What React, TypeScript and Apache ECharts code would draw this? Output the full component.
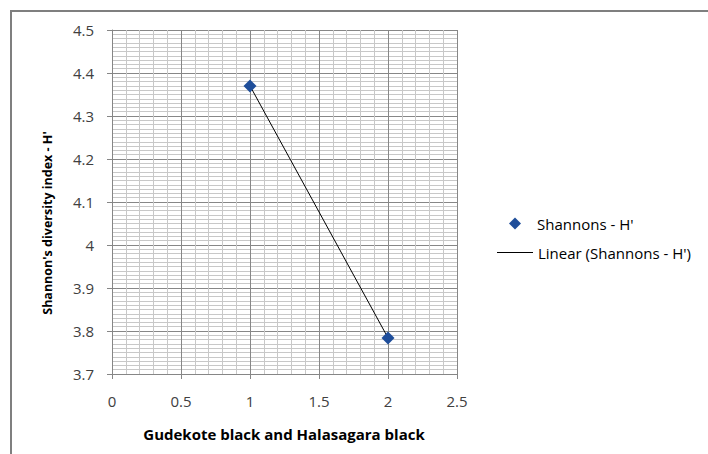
import React, { useEffect, useRef } from "react";
import * as echarts from "echarts";

// Site index on the x axis (1 = Gudekote black, 2 = Halasagara black)
const siteIndex: number[] = [1, 2];
// Shannon's diversity index H' for each site
const shannonH: number[] = [4.37, 3.784];

const seriesName = "Shannons - H'";
const trendName = "Linear (Shannons - H')";
const xTitle = "Gudekote black and Halasagara black";
const yTitle = "Shannon's diversity index - H'";

const FONT = "'Open Sans', 'Noto Sans', sans-serif";

// Least-squares fit through the observed points
function linearFit(xs: number[], ys: number[]): [number, number][] {
  const n = xs.length;
  const mx = xs.reduce((a, b) => a + b, 0) / n;
  const my = ys.reduce((a, b) => a + b, 0) / n;
  let sxy = 0;
  let sxx = 0;
  for (let i = 0; i < n; i++) {
    sxy += (xs[i] - mx) * (ys[i] - my);
    sxx += (xs[i] - mx) * (xs[i] - mx);
  }
  const slope = sxy / sxx;
  const icpt = my - slope * mx;
  const x0 = Math.min(...xs);
  const x1 = Math.max(...xs);
  return [
    [x0, icpt + slope * x0],
    [x1, icpt + slope * x1],
  ];
}

const fmt = (v: number) => String(Math.round(v * 10) / 10);

export default function App() {
  const ref = useRef<HTMLDivElement>(null);

  useEffect(() => {
    if (!ref.current) return;
    const chart = echarts.init(ref.current, undefined, { renderer: "svg" });
    chart.setOption({
      animation: false,
      backgroundColor: "#ffffff",
      grid: { left: 112, top: 30, right: 251, bottom: 80 },
      xAxis: {
        type: "value",
        min: 0,
        max: 2.5,
        interval: 0.5,
        axisLine: { show: true, lineStyle: { color: "#868686", width: 1 } },
        axisTick: { show: true, length: 5, lineStyle: { color: "#868686" } },
        axisLabel: {
          margin: 19,
          color: "#404040",
          fontSize: 15,
          lineHeight: 15,
          fontFamily: FONT,
          formatter: fmt,
        },
        splitLine: { show: true, lineStyle: { color: "#878787", width: 1 } },
        minorTick: { show: false, splitNumber: 5 },
        minorSplitLine: { show: true, lineStyle: { color: "#c8c8c8", width: 1 } },
      },
      yAxis: {
        type: "value",
        min: 3.7,
        max: 4.5,
        interval: 0.1,
        axisLine: { show: true, lineStyle: { color: "#868686", width: 1 } },
        axisTick: { show: true, length: 5, lineStyle: { color: "#868686" } },
        axisLabel: {
          margin: 18,
          color: "#404040",
          fontSize: 15,
          fontFamily: FONT,
          formatter: fmt,
        },
        splitLine: { show: true, lineStyle: { color: "#878787", width: 1 } },
        minorTick: { show: false, splitNumber: 10 },
        minorSplitLine: { show: true, lineStyle: { color: "#c8c8c8", width: 1 } },
      },
      legend: [
        {
          data: [{ name: seriesName, icon: "diamond" }],
          orient: "vertical",
          left: 509,
          top: 216,
          itemWidth: 12,
          itemHeight: 12,
          padding: 0,
          textStyle: {
            fontFamily: FONT,
            fontSize: 15,
            color: "#000000",
            padding: [0, 0, 0, 11],
          },
        },
        {
          data: [{ name: trendName, icon: "rect" }],
          orient: "vertical",
          left: 497,
          top: 245,
          itemWidth: 36,
          itemHeight: 1,
          padding: 0,
          textStyle: { fontFamily: FONT, fontSize: 15, color: "#000000" },
        },
      ],
      graphic: [
        {
          type: "rect",
          shape: { x: 11, y: 11, width: 760, height: 520 },
          style: { fill: "none", stroke: "#7f7f7f", lineWidth: 2 },
          silent: true,
        },
        {
          type: "text",
          x: 284,
          y: 434,
          style: {
            text: xTitle,
            fontFamily: FONT,
            fontWeight: "bold",
            fontSize: 15,
            fill: "#000000",
            align: "center",
            verticalAlign: "middle",
          },
        },
        {
          type: "text",
          x: 47,
          y: 223,
          rotation: Math.PI / 2,
          style: {
            text: yTitle,
            fontFamily: FONT,
            fontWeight: "bold",
            fontSize: 12.5,
            fill: "#000000",
            align: "center",
            verticalAlign: "middle",
          },
        },
      ],
      series: [
        {
          name: trendName,
          type: "line",
          data: linearFit(siteIndex, shannonH),
          symbol: "none",
          lineStyle: { color: "#000000", width: 1 },
          itemStyle: { color: "#000000" },
          z: 2,
        },
        {
          name: seriesName,
          type: "scatter",
          data: siteIndex.map((x, i) => [x, shannonH[i]]),
          symbol: "diamond",
          symbolSize: 13,
          itemStyle: { color: "#1f4e9a", opacity: 1 },
          z: 3,
        },
      ],
    });
    return () => chart.dispose();
  }, []);

  return (
    <div
      ref={ref}
      style={{ position: "absolute", left: 0, top: 0, width: 708, height: 454 }}
    />
  );
}
